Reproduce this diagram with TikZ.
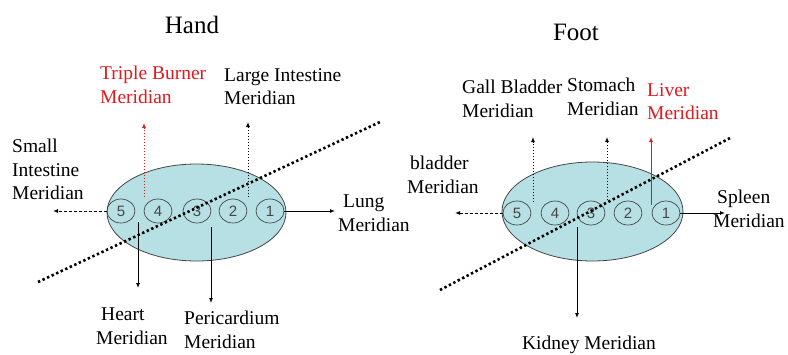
\documentclass[tikz,border=0pt]{standalone}
\usepackage{fontspec}
\setmainfont{Liberation Serif}
\newfontfamily\digitfont{Liberation Sans}
\usetikzlibrary{shapes.geometric,arrows.meta}
\definecolor{padfill}{RGB}{182,224,228}
\definecolor{edgegray}{RGB}{70,70,70}
\definecolor{mred}{RGB}{225,25,30}
\begin{document}
\begin{tikzpicture}[x=1pt,y=-1pt,
  lbl/.style={font=\fontsize{19.5}{23.5}\selectfont, align=left, inner sep=0pt, anchor=north west},
  ttl/.style={font=\fontsize{25}{30}\selectfont, inner sep=0pt},
  pad/.style={ellipse, draw=edgegray, fill=padfill, line width=0.8pt, inner sep=0pt},
  pt/.style={ellipse, draw=edgegray, line width=0.7pt, inner sep=0pt, minimum width=28pt, minimum height=24pt, font=\digitfont\fontsize{15}{18}\selectfont, text=edgegray},
  cut/.style={line width=2.6pt, dash pattern=on 2.4pt off 2.6pt},
  arr/.style={line width=0.9pt, -{Latex[length=5pt,width=4pt]}},
  dasharr/.style={arr, dash pattern=on 3pt off 2pt},
  dotarr/.style={arr, dash pattern=on 1.5pt off 1.5pt},
]
\useasboundingbox (0,0) rectangle (788,354);

% titles
\node[ttl] (thand) at (192,25) {Hand};
\node[ttl] (tfoot) at (576,32) {Foot};

% ---------- Hand ----------
\node[pad, minimum width=179pt, minimum height=97pt] (hand) at (196.5,212.5) {};
\node[pt] (h5) at (121,211) {5};
\node[pt] (h4) at (158,211) {4};
\node[pt] (h3) at (197,211) {3};
\node[pt] (h2) at (233,211) {2};
\node[pt] (h1) at (270,211) {1};
\coordinate (hcutA) at (38,282);
\coordinate (hcutB) at (380,122);
\draw[cut] (hcutA) -- (hcutB);

\coordinate (siEnd) at (53,211);
\coordinate (tbStart) at (144,197);
\coordinate (tbEnd) at (144,123);
\coordinate (liStart) at (248,197);
\coordinate (liEnd) at (248,122);
\coordinate (luEnd) at (335,211);
\coordinate (heStart) at (138,222);
\coordinate (heEnd) at (138,288);
\coordinate (peStart) at (211,227);
\coordinate (peEnd) at (211,303);

\draw[dasharr] (h5.west) -- (siEnd);
\draw[dotarr, mred] (tbStart) -- (tbEnd);
\draw[dotarr] (liStart) -- (liEnd);
\draw[arr] (h1.east) -- (luEnd);
\draw[arr] (heStart) -- (heEnd);
\draw[arr] (peStart) -- (peEnd);

\node[lbl, text=mred] (ltb) at (100,66) {Triple Burner\\Meridian};
\node[lbl] (lli) at (224,68) {Large Intestine\\Meridian};
\node[lbl] (lsi) at (12,139) {Small\\Intestine\\Meridian};
\node[lbl] (llu) at (338,195) {\hspace*{5pt}Lung\\Meridian};
\node[lbl] (lhe) at (96,308) {\hspace*{5pt}Heart\\Meridian};
\node[lbl] (lpe) at (184,311) {Pericardium\\Meridian};

% ---------- Foot ----------
\node[pad, minimum width=181pt, minimum height=99pt] (foot) at (592.5,211.5) {};
\node[pt] (f5) at (517,213) {5};
\node[pt] (f4) at (555,213) {4};
\node[pt] (f3) at (591,213) {3};
\node[pt] (f2) at (628,213) {2};
\node[pt] (f1) at (666,213) {1};
\coordinate (fcutA) at (440,290);
\coordinate (fcutB) at (732,137);
\draw[cut] (fcutA) -- (fcutB);

\coordinate (blEnd) at (455,213);
\coordinate (gbStart) at (533,202);
\coordinate (gbEnd) at (533,137);
\coordinate (stStart) at (607,200);
\coordinate (stEnd) at (607,137);
\coordinate (lvStart) at (651,205);
\coordinate (lvEnd) at (651,137);
\coordinate (spEnd) at (725,213);
\coordinate (kiStart) at (577,227);
\coordinate (kiEnd) at (577,318);

\draw[dasharr] (f5.west) -- (blEnd);
\draw[dotarr] (gbStart) -- (gbEnd);
\draw[dotarr] (stStart) -- (stEnd);
\draw[arr, mred] (lvStart) -- (lvEnd);
\draw[arr] (f1.east) -- (spEnd);
\draw[arr] (kiStart) -- (kiEnd);

\node[lbl] (lgb) at (462,80) {Gall Bladder\\Meridian};
\node[lbl] (lst) at (567,78) {Stomach\\Meridian};
\node[lbl, text=mred] (llv) at (647,83) {Liver\\Meridian};
\node[lbl] (lbl) at (407,156) {\hspace*{3pt}bladder\\Meridian};
\node[lbl] (lsp) at (713,190) {\hspace*{4pt}Spleen\\Meridian};
\node[lbl, anchor=north, align=center] (lki) at (589,336) {Kidney Meridian};
\end{tikzpicture}
\end{document}
